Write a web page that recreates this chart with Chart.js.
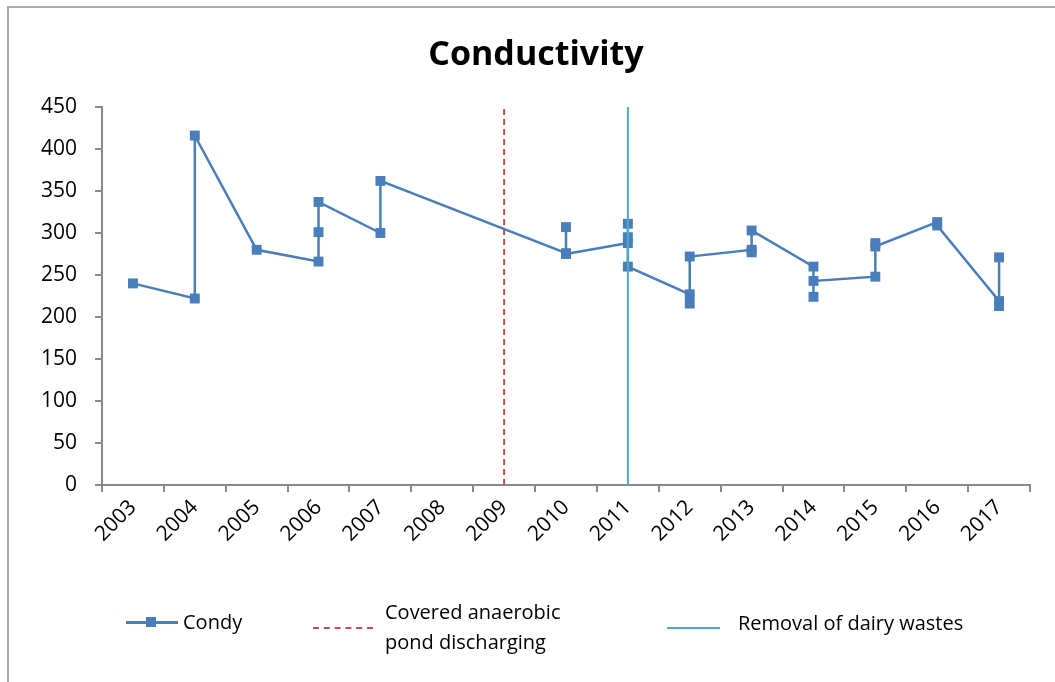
<!DOCTYPE html>
<html>
<head>
<meta charset="utf-8">
<script src="https://cdn.jsdelivr.net/npm/chart.js@4/dist/chart.umd.min.js"></script>
<style>
  html, body { margin: 0; padding: 0; background: #fff; }
  body { width: 1055px; height: 682px; overflow: hidden; position: relative; font-family: "Open Sans", "Noto Sans", sans-serif; color: #000; }
  #frame { position: absolute; left: 7px; top: 6px; width: 1100px; height: 720px; border-left: 2px solid #ababab; border-top: 2px solid #ababab; }
  #chart { position: absolute; left: 0; top: 0; }
  #title { position: absolute; left: 0; width: 1072px; top: 29px; text-align: center; font-weight: 700; font-size: 34px; line-height: 46px; }
  .leg { position: absolute; font-size: 20px; line-height: 30px; white-space: nowrap; }
  .swatch { position: absolute; }
</style>
</head>
<body>
<div id="frame"></div>
<canvas id="chart" width="1055" height="682"></canvas>
<div id="title">Conductivity</div>

<!-- legend -->
<div class="swatch" style="left:126px; top:621px; width:52px; height:3px; background:#4A7EBB;"></div>
<div class="swatch" style="left:146px; top:617px; width:10px; height:10px; background:#4A7EBB;"></div>
<div class="leg" style="left:183px; top:607px;">Condy</div>
<div class="swatch" style="left:313px; top:627px; width:60px; height:0; border-top:2px dashed #C0504D;"></div>
<div class="leg" style="left:385px; top:597px;">Covered anaerobic<br>pond discharging</div>
<div class="swatch" style="left:667px; top:627px; width:53px; height:2px; background:#4BACC6;"></div>
<div class="leg" style="left:738px; top:608px;">Removal of dairy wastes</div>

<script>
// Year categories on the x axis
const years = ['2003','2004','2005','2006','2007','2008','2009','2010','2011','2012','2013','2014','2015','2016','2017'];

// Conductivity readings, in sampling order (several samples per year)
const condyYear = ['2003','2004','2004','2005','2006','2006','2006','2007','2007',
                   '2010','2010','2010','2011','2011','2011','2011',
                   '2012','2012','2012','2013','2013','2013','2014','2014','2014',
                   '2015','2015','2015','2016','2016','2017','2017','2017'];
const condyValue = [240, 222, 416, 280, 266, 301, 337, 300, 362,
                    276, 307, 275, 288, 311, 295, 260,
                    227, 216, 272, 280, 277, 303, 260, 224, 243,
                    248, 288, 284, 313, 309, 219, 213, 271];

// Event markers: year and vertical extent
const pondYear = '2009';
const dairyYear = '2011';
const markerRange = [0, 450];

// Y axis ticks
const yTicks = { min: 0, max: 450, step: 50 };

const condyPoints = condyYear.map((y, i) => ({ x: y, y: condyValue[i] }));
const pondPoints = markerRange.map(v => ({ x: pondYear, y: v }));
const dairyPoints = markerRange.map(v => ({ x: dairyYear, y: v }));

const axisGray = '#8a8a8a';
const tickFont = { family: '"Open Sans", "Noto Sans", sans-serif', size: 21 };

new Chart(document.getElementById('chart'), {
  type: 'line',
  data: {
    labels: years,
    datasets: [
      {
        label: 'Condy',
        data: condyPoints,
        borderColor: '#4A7EBB',
        backgroundColor: '#4A7EBB',
        borderWidth: 2.5,
        pointStyle: 'rect',
        pointRadius: 7,
        pointBorderWidth: 0,
        pointBackgroundColor: '#4A7EBB',
        tension: 0,
        order: 3
      },
      {
        label: 'Covered anaerobic pond discharging',
        data: pondPoints,
        borderColor: '#C0504D',
        borderWidth: 2,
        borderDash: [6, 4],
        pointRadius: 0,
        order: 2
      },
      {
        label: 'Removal of dairy wastes',
        data: dairyPoints,
        borderColor: '#4BACC6',
        borderWidth: 2,
        pointRadius: 0,
        order: 1
      }
    ]
  },
  options: {
    responsive: false,
    animation: false,
    devicePixelRatio: 1,
    layout: { padding: { top: 107, right: 25, left: 0, bottom: 0 } },
    plugins: {
      legend: { display: false },
      title: { display: false },
      tooltip: { enabled: false }
    },
    scales: {
      x: {
        type: 'category',
        offset: true,
        grid: { offset: true, drawOnChartArea: false, drawTicks: true, tickLength: 7, color: axisGray, lineWidth: 2 },
        border: { color: axisGray, width: 2 },
        ticks: { color: '#000', font: tickFont, minRotation: 45, maxRotation: 45, padding: 3, autoSkip: false },
        afterFit: s => { s.height = 197; }
      },
      y: {
        min: yTicks.min,
        max: yTicks.max,
        grid: { drawOnChartArea: false, drawTicks: true, tickLength: 7, color: axisGray, lineWidth: 2 },
        border: { color: axisGray, width: 2 },
        ticks: { stepSize: yTicks.step, color: '#000', font: tickFont, padding: 18 },
        afterFit: s => { s.width = 102; }
      }
    }
  }
});
</script>
</body>
</html>
